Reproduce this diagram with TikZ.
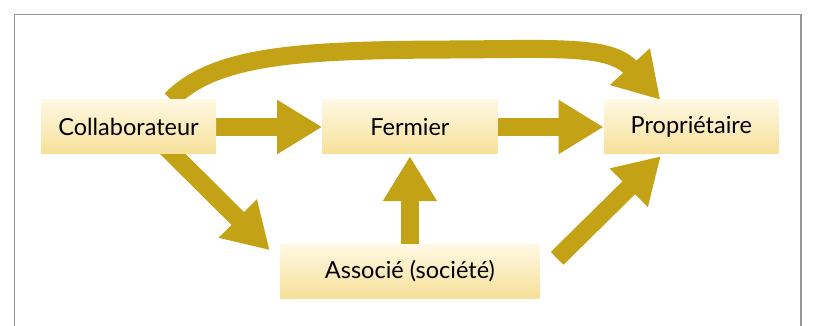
\documentclass[tikz,border=0pt]{standalone}
\usepackage{fontspec}
\setmainfont{Lato}
\usepackage{xcolor}
\usetikzlibrary{arrows.meta,positioning,backgrounds}

\definecolor{arrowgold}{RGB}{195,162,22}
\definecolor{boxtop}{RGB}{255,248,228}
\definecolor{boxbottom}{RGB}{246,224,152}
\definecolor{framegray}{RGB}{150,150,150}

\begin{document}
\begin{tikzpicture}[
    x=1pt, y=-1pt,
    box/.style={rectangle, minimum width=175pt, minimum height=54pt, inner sep=0pt, top color=boxtop, bottom color=boxbottom, align=center, font=\fontsize{23.5}{28}\selectfont},
    arrow/.style={-{Triangle[width=51pt,length=45pt]}, line width=18pt, draw=arrowgold, fill=none}
]
\useasboundingbox (0,0) rectangle (814,326);

% Frame
\draw[framegray, line width=1.5pt] (14.5,326) -- (14.5,14.5) -- (801,14.5) -- (801,326);

% Boxes
\node[box] (collab) at (128.5,127) {Collaborateur};
\node[box, right=106pt of collab] (fermier) {Fermier};
\node[box, right=106pt of fermier] (propr) {Propriétaire};
\node[box, minimum width=260pt, below=90pt of fermier] (associe) {Associé (société)};

% Arrows
\begin{scope}[on background layer]
\draw[arrow] (collab) -- (fermier);
\draw[arrow] (fermier) -- (propr);
\draw[arrow] (associe.north) -- ([yshift=-2pt]fermier.south);
\draw[arrow] ([shift={(34.5,-10)}]collab.south) -- ([shift={(-10,6)}]associe.north west);
\draw[arrow] ([shift={(17,-13)}]associe.east) -- ([shift={(-30.5,2)}]propr.south);
\draw[arrow] ([xshift=42.5pt]collab.north) .. controls (215,55) and (300,50) .. (450,49.5)
    .. controls (560,49) and (610,45) .. ([xshift=-31pt]propr.north);
\end{scope}

\end{tikzpicture}
\end{document}
